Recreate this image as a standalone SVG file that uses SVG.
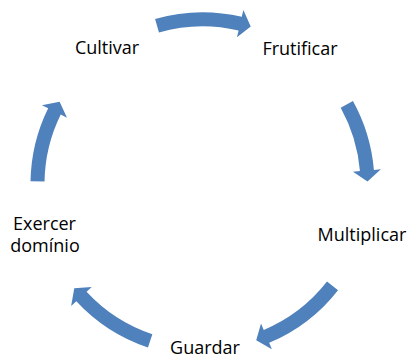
<svg xmlns="http://www.w3.org/2000/svg" width="411" height="359" viewBox="0 0 411 359">
<style>
.arrow{fill:#4F81BD;stroke:none}
.lbl{font-family:"Open Sans","Noto Sans","Liberation Sans",sans-serif;font-size:18px;fill:#000;text-anchor:middle}
</style>
<rect width="411" height="359" fill="#fff"/>
<g id="connectors">
<path class="arrow" d="M155.09,18.96 A172,172 0 0 1 241.78,16.84 L243.37,10.03 L250.74,26.51 L236.98,37.29 L238.58,30.47 A158,158 0 0 0 158.95,32.42 Z"/>
<path class="arrow" d="M352.93,100.91 A172,172 0 0 1 373.90,169.91 L380.87,169.32 L367.47,181.42 L352.97,171.66 L359.95,171.08 A158,158 0 0 0 340.69,107.70 Z"/>
<path class="arrow" d="M338.04,290.19 A172,172 0 0 1 269.15,342.86 L271.87,349.31 L256.22,340.31 L261.02,323.50 L263.73,329.95 A158,158 0 0 0 327.01,281.57 Z"/>
<path class="arrow" d="M147.92,347.41 A172,172 0 0 1 76.30,301.16 L71.16,305.92 L74.27,288.14 L91.71,286.90 L86.57,291.65 A158,158 0 0 0 152.37,334.13 Z"/>
<path class="arrow" d="M30.53,181.30 A172,172 0 0 1 48.17,108.36 L41.89,105.27 L59.61,101.80 L67.01,117.63 L60.73,114.54 A158,158 0 0 0 44.52,181.54 Z"/>
</g>
<g id="cultivar"><text class="lbl" x="107" y="54">Cultivar</text></g>
<g id="frutificar"><text class="lbl" x="300" y="55">Frutificar</text></g>
<g id="multiplicar"><text class="lbl" x="362" y="241">Multiplicar</text></g>
<g id="guardar"><text class="lbl" x="205" y="354">Guardar</text></g>
<g id="exercer"><text class="lbl" x="44.5" y="230">Exercer</text><text class="lbl" x="45" y="252">domínio</text></g>
</svg>
